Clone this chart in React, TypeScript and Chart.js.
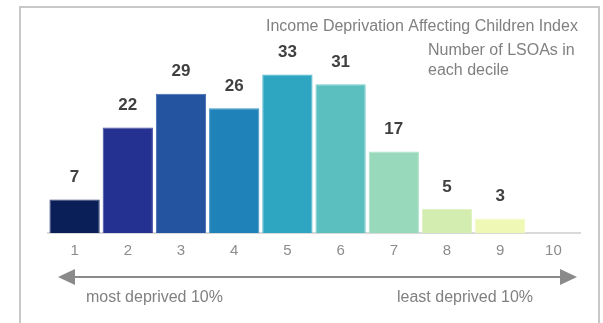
import React, { useEffect, useRef } from "react";
import { Chart, registerables } from "chart.js";

Chart.register(...registerables);

const deciles = ["1", "2", "3", "4", "5", "6", "7", "8", "9", "10"];
const lsoaCounts = [7, 22, 29, 26, 33, 31, 17, 5, 3, 0];
const barColors = [
  "#0a1e58",
  "#243190",
  "#2453a0",
  "#1f82b9",
  "#2ea6c1",
  "#5bbfbf",
  "#98d9bb",
  "#d3edb0",
  "#eff8b5",
  "#ffffd9",
];
const barEdgeColors = [
  "#2a3a70",
  "#3d49a0",
  "#3d69b0",
  "#3a93c5",
  "#4bb4cc",
  "#76cbcb",
  "#ace2c8",
  "#dff2c2",
  "#f4fac8",
  "#ffffe6",
];
const titleLine = "Income Deprivation Affecting Children Index";
const subtitleLines = ["Number of LSOAs in", "each decile"];
const leftNote = "most deprived 10%";
const rightNote = "least deprived 10%";

const FONT = "'Liberation Sans', Arial, sans-serif";

const decorPlugin = {
  id: "decor",
  beforeDraw(chart: any) {
    const ctx = chart.ctx;
    ctx.save();
    ctx.fillStyle = "#ffffff";
    ctx.fillRect(0, 0, chart.width, chart.height);
    ctx.strokeStyle = "#c8c8c8";
    ctx.lineWidth = 2;
    ctx.beginPath();
    ctx.moveTo(20, 340);
    ctx.lineTo(20, 7);
    ctx.lineTo(599, 7);
    ctx.lineTo(599, 340);
    ctx.stroke();
    ctx.restore();
  },
  afterDraw(chart: any) {
    const ctx = chart.ctx;
    ctx.save();
    ctx.fillStyle = "#808080";
    ctx.font = `16px ${FONT}`;
    ctx.textBaseline = "middle";
    ctx.textAlign = "left";
    ctx.fillText(titleLine, 266, 27);
    ctx.fillText(subtitleLines[0], 428, 51);
    ctx.fillText(subtitleLines[1], 428, 71);

    const ay = 277;
    ctx.strokeStyle = "#8a8a8a";
    ctx.fillStyle = "#8a8a8a";
    ctx.lineWidth = 2;
    ctx.beginPath();
    ctx.moveTo(72, ay);
    ctx.lineTo(562, ay);
    ctx.stroke();
    ctx.beginPath();
    ctx.moveTo(58, ay);
    ctx.lineTo(75, ay - 8);
    ctx.lineTo(75, ay + 8);
    ctx.closePath();
    ctx.fill();
    ctx.beginPath();
    ctx.moveTo(577, ay);
    ctx.lineTo(560, ay - 8);
    ctx.lineTo(560, ay + 8);
    ctx.closePath();
    ctx.fill();

    ctx.fillStyle = "#808080";
    ctx.font = `16px ${FONT}`;
    ctx.fillText(leftNote, 86, 298);
    ctx.fillText(rightNote, 397, 298);
    ctx.restore();
  },
  afterDatasetsDraw(chart: any) {
    const ctx = chart.ctx;
    const meta = chart.getDatasetMeta(0);
    const data = chart.data.datasets[0].data;
    ctx.save();
    ctx.fillStyle = "#404040";
    ctx.font = `bold 17px ${FONT}`;
    ctx.textAlign = "center";
    ctx.textBaseline = "middle";
    meta.data.forEach((bar: any, i: number) => {
      const v = data[i];
      if (v > 0) ctx.fillText(String(v), bar.x, bar.y - 22);
    });
    ctx.restore();
  },
};

export default function App() {
  const canvasRef = useRef<HTMLCanvasElement | null>(null);

  useEffect(() => {
    const canvas = canvasRef.current;
    if (!canvas) return;
    const chart = new Chart(canvas, {
      type: "bar",
      data: {
        labels: deciles,
        datasets: [
          {
            data: lsoaCounts,
            backgroundColor: barColors,
            borderColor: barEdgeColors,
            borderWidth: 1,
            barPercentage: 0.945,
            categoryPercentage: 1,
          },
        ],
      },
      options: {
        animation: false,
        responsive: false,
        devicePixelRatio: 1,
        layout: { padding: { top: 41, left: 48, right: 23, bottom: 54 } },
        plugins: {
          legend: { display: false },
          tooltip: { enabled: false },
          title: { display: false },
        },
        scales: {
          x: {
            grid: { display: false, drawTicks: false },
            border: { display: true, color: "#d9d9d9", width: 2 },
            ticks: {
              color: "#8c8c8c",
              padding: 9,
              font: { family: FONT, size: 15 },
            },
          },
          y: {
            display: false,
            min: 0,
            max: 40,
          },
        },
      },
      plugins: [decorPlugin],
    });
    return () => chart.destroy();
  }, []);

  return (
    <div style={{ position: "absolute", left: 0, top: 0, width: 603, height: 323, background: "#fff" }}>
      <canvas ref={canvasRef} width={603} height={323} style={{ display: "block" }} />
    </div>
  );
}
